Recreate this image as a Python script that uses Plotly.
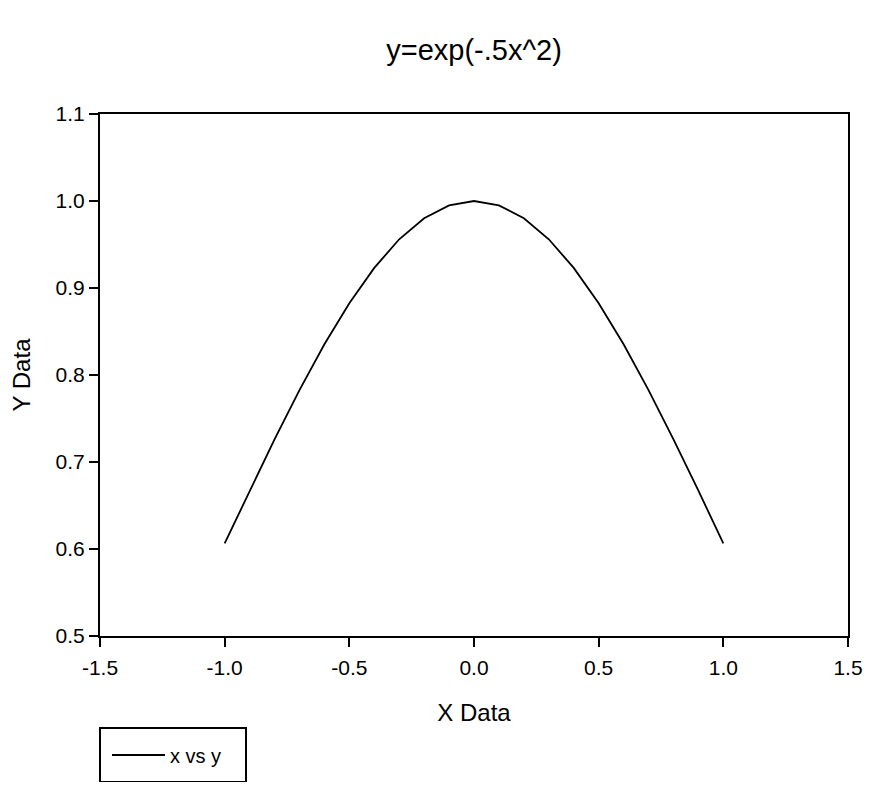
import plotly.graph_objects as go

x_vals = [-1.0, -0.9, -0.8, -0.7, -0.6, -0.5, -0.4, -0.3, -0.2, -0.1, 0.0,
          0.1, 0.2, 0.3, 0.4, 0.5, 0.6, 0.7, 0.8, 0.9, 1.0]
y_vals = [0.6065, 0.6670, 0.7261, 0.7827, 0.8353, 0.8825, 0.9231, 0.9560, 0.9802, 0.9950, 1.0000,
          0.9950, 0.9802, 0.9560, 0.9231, 0.8825, 0.8353, 0.7827, 0.7261, 0.6670, 0.6065]
x_ticks = [-1.5, -1.0, -0.5, 0.0, 0.5, 1.0, 1.5]
y_ticks = [0.5, 0.6, 0.7, 0.8, 0.9, 1.0, 1.1]

font = "Liberation Sans, Arial, sans-serif"
PW, PH = 748, 522  # plot area size in px

fig = go.Figure()
fig.add_trace(go.Scatter(x=x_vals, y=y_vals, mode="lines", name="x vs y",
                         line=dict(color="black", width=1.8)))

axis_common = dict(showgrid=False, zeroline=False, showline=True, linecolor="black",
                   linewidth=2, mirror=True, ticks="outside", ticklen=9, tickwidth=1.5,
                   tickcolor="black", tickfont=dict(family=font, size=21, color="black"),
                   automargin=False)

fig.update_layout(
    width=876, height=774,
    paper_bgcolor="white", plot_bgcolor="white",
    margin=dict(l=92, r=36, t=106, b=146, autoexpand=False),
    title=dict(text="y=exp(-.5x^2)", x=(92 + 374) / 876, xanchor="center",
               y=1 - 42 / 774, yanchor="middle",
               font=dict(family=font, size=29, color="black")),
    xaxis=dict(range=[-1.5, 1.5], tickvals=x_ticks, ticktext=[f"{v:.1f}" for v in x_ticks],
               ticklabelstandoff=3,
               title=dict(text="X Data", font=dict(family=font, size=24, color="black"), standoff=26),
               **axis_common),
    yaxis=dict(range=[0.5, 1.1], tickvals=y_ticks, ticktext=[f"{v:.1f}" for v in y_ticks],
               title=dict(text="Y Data", font=dict(family=font, size=24, color="black"), standoff=22),
               **axis_common),
    showlegend=True,
    legend=dict(x=7 / PW, y=-(755 - 636) / PH, xanchor="left", yanchor="middle",
                borderwidth=0, bgcolor="rgba(0,0,0,0)", itemwidth=53,
                font=dict(family=font, size=20, color="black")),
    shapes=[dict(type="rect", xref="paper", yref="paper",
                 x0=0, x1=146 / PW, y0=-(728 - 636) / PH, y1=-(782 - 636) / PH,
                 line=dict(color="black", width=2), fillcolor="rgba(0,0,0,0)")],
)

fig.write_html("out.html")
